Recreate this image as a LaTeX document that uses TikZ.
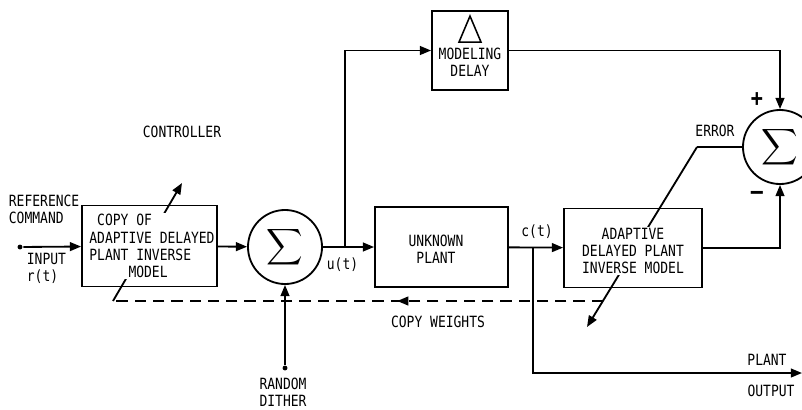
\documentclass[tikz,border=0pt]{standalone}
\usepackage{fontspec}
\usepackage{graphicx}
\newfontfamily\typefont[FakeStretch=0.84]{DejaVu Sans Mono}
\newcommand{\sigmabig}{\scalebox{1.8}{$\displaystyle\sum$}}
\usetikzlibrary{arrows.meta,calc,decorations.markings}

\begin{document}
\begin{tikzpicture}[x=0.025cm, y=-0.025cm, >={Triangle[length=2.8mm,width=2.2mm]}, line width=1.3pt,
    font={\typefont\fontsize{11}{12.2}\selectfont},
    blk/.style={draw, rectangle, inner sep=0pt},
    txt/.style={align=center, fill=white, inner sep=1pt},
    lbl/.style={align=center, inner sep=0pt},
    sign/.style={inner sep=0pt, font={\typefont\fontsize{17}{17}\bfseries}},
    sumnode/.style={draw, circle, minimum size=1.85cm, inner sep=0pt},
    dot/.style={circle, fill, inner sep=0pt, minimum size=3.5pt}]
    \useasboundingbox (0,0) rectangle (802,409);

    % blocks
    \node[blk, minimum width=3.375cm, minimum height=2.025cm] (copy) at (149.5,246) {};
    \node[sumnode] (s1) at (285,247) {\sigmabig};
    \node[blk, minimum width=3.325cm, minimum height=2cm] (plant) at (441.5,247) {};
    \node[blk, minimum width=3.45cm, minimum height=1.975cm] (adapt) at (633,248) {};
    \node[blk, minimum width=1.9cm, minimum height=1.975cm] (delay) at (470,50.5) {};
    \node[sumnode] (s2) at (780,147) {\sigmabig};
    \draw[line width=1.1pt] ($(delay.north)+(0,6)$) -- ++(-11,26) -- ++(22,0) -- cycle;

    % signal path
    \node[dot] (inp) at (20,247) {};
    \coordinate (ub) at (345,247);
    \coordinate (cb) at (533,247);
    \coordinate (pout) at (802,373);
    \draw[->] (inp) -- (copy);
    \draw[->] (copy) -- (s1);
    \draw[->] (s1) -- (plant);
    \draw[->] (ub) |- (delay);
    \draw[->] (delay) -| (s2);
    \draw[->] (plant) -- (adapt);
    \draw[->] (cb) |- (pout);
    \draw[->] (adapt) -| (s2);

    % dither
    \node[dot] (dith) at (285,368) {};
    \draw[->] (dith) -- (s1);

    % error and weight copying
    \coordinate (ek) at (697,147);
    \coordinate (atip) at (587,327);
    \coordinate (cwa) at (603,301);
    \coordinate (cwb) at (113,301);
    \coordinate (ctip) at (182,183);
    \draw (s2) -- (ek);
    \draw[->] (ek) -- (atip);
    \draw[dash pattern=on 8pt off 5pt, postaction={decorate},
        decoration={markings, mark=at position 0.42 with {\arrow{>}}}] (cwa) -- (cwb);
    \draw[->] (cwb) -- (ctip);

    % block texts
    \node[txt, align=left] (copyt) at (152,246) {\ COPY OF\\ADAPTIVE DELAYED\\PLANT INVERSE\\\ \ \ \ \ MODEL};
    \node[txt] (plantt) at (436,249) {UNKNOWN\\PLANT};
    \node[txt] (adaptt) at (633,251) {ADAPTIVE\\DELAYED PLANT\\INVERSE MODEL};
    \node[lbl] (delayt) at (470,62) {MODELING\\DELAY};

    % labels
    \node[lbl, anchor=west, align=left] (refl) at (8,209) {REFERENCE\\COMMAND};
    \node[lbl, anchor=west, align=left] (inl) at (26,268) {INPUT\\r(t)};
    \node[lbl] (ctrl) at (182,132) {CONTROLLER};
    \node[lbl, anchor=west] (ul) at (326,265) {u(t)};
    \node[lbl] (cl) at (537,232) {c(t)};
    \node[lbl] (errl) at (715,131) {ERROR};
    \node[sign] (plus) at (757,100) {+};
    \node[sign] (minus) at (757,195) {–};
    \node[lbl] (cwl) at (438,322) {COPY WEIGHTS};
    \node[lbl] (rdl) at (283,392) {RANDOM\\DITHER};
    \node[lbl] (pol) at (767,360) {PLANT};
    \node[lbl] (pol2) at (771,391) {OUTPUT};
\end{tikzpicture}
\end{document}
